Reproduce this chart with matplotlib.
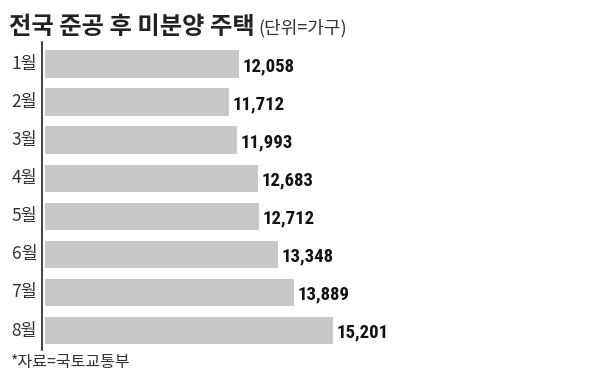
import numpy as np
import matplotlib.pyplot as plt

months = ['1월', '2월', '3월', '4월', '5월', '6월', '7월', '8월']
units = [12058, 11712, 11993, 12683, 12712, 13348, 13889, 15201]

title = '전국 준공 후 미분양 주택'
unit_note = '(단위=가구)'
source = '*자료=국토교통부'

kr = ['Noto Sans CJK KR', 'DejaVu Sans']
num = ['Liberation Sans Narrow', 'DejaVu Sans Condensed', 'Roboto Condensed', 'Liberation Sans']
plt.rcParams['font.family'] = kr

W, H = 595, 380
fig = plt.figure(figsize=(W/100, H/100), dpi=100)
# axes from x=45..333 px, y=42..350 px (from top)
ax = fig.add_axes([45/W, 1-350/H, 288/W, 308/H])

y = np.arange(len(units))
ax.barh(y, units, height=0.72, color='#c7c8ca', left=0)
x0 = 5572
ax.set_xlim(x0, 15201)
ax.set_ylim(7.512, -0.578)

for i, v in enumerate(units):
    ax.text(v + 130, i + 0.05, '{:,}'.format(v), va='center', ha='left',
            fontsize=13.5, fontweight='bold', family=num, color='#111111')

# month labels as plain text so the size is under control
for i, m in enumerate(months):
    ax.text(-0.027, i, m, transform=ax.get_yaxis_transform(), ha='right', va='center',
            fontsize=12.5, color='#333333')

ax.set_yticks([])
ax.set_xticks([])
for s in ['top', 'right', 'bottom']:
    ax.spines[s].set_visible(False)
ax.spines['left'].set_position(('outward', 2))
ax.spines['left'].set_linewidth(1.2)
ax.spines['left'].set_color('#222222')

fig.text(9/W, 1-27/H, title, fontsize=17.5, fontweight='bold', va='center', ha='left', color='#222222')
fig.text(258/W, 1-28/H, unit_note, fontsize=13, va='center', ha='left', color='#333333')
fig.text(11/W, 1-363/H, source, fontsize=11.5, va='center', ha='left', color='#333333')

plt.savefig('out.png', dpi=100)
